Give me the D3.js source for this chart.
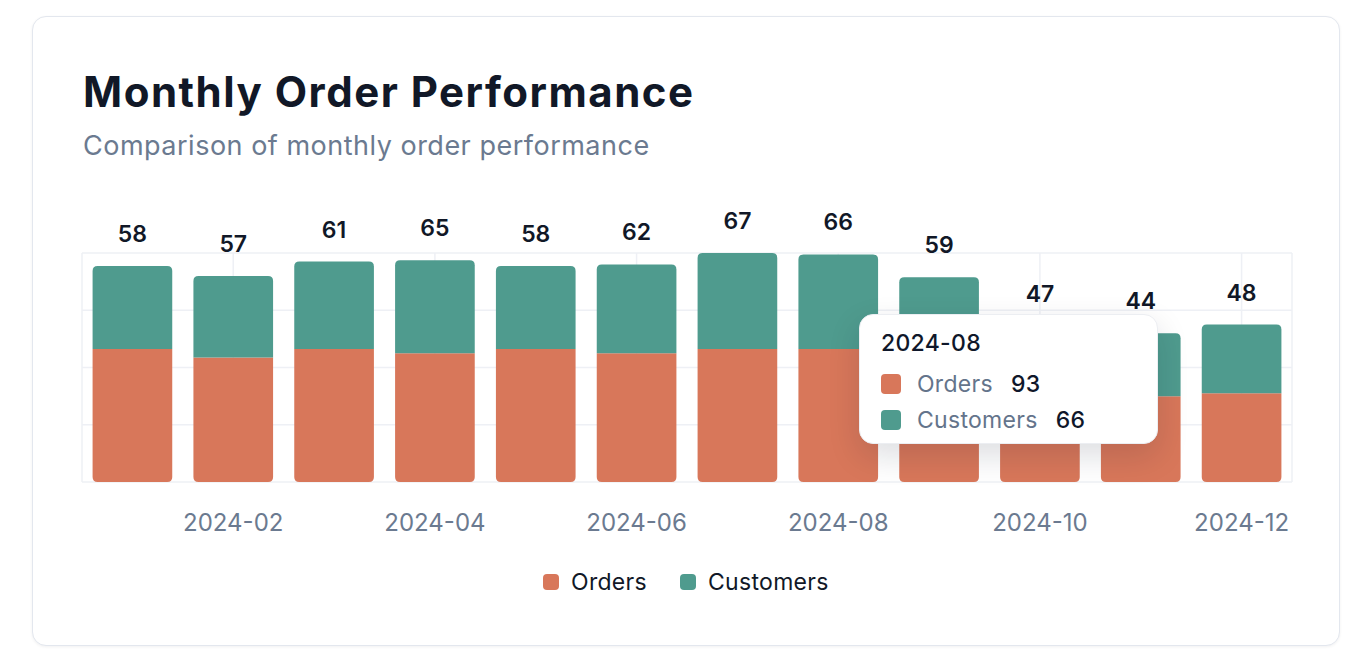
<!DOCTYPE html>
<html>
<head>
<meta charset="utf-8">
<script src="https://cdn.jsdelivr.net/npm/d3@7"></script>
<style>
  html, body { margin: 0; padding: 0; background: #fff; }
  body { width: 1354px; height: 664px; position: relative; overflow: hidden; font-family: Inter, "Noto Sans", sans-serif; }
  .card {
    position: absolute; left: 32px; top: 16px; width: 1306px; height: 628px;
    border: 1.5px solid #e3e7ee; border-radius: 14px; background: #fff;
    box-shadow: 0 1px 3px rgba(15, 23, 42, 0.06);
  }
  svg { position: absolute; left: 0; top: 0; }
  .tooltip {
    position: absolute; box-sizing: border-box; width: 299px; height: 130px;
    background: #fff; border: 1px solid #eceef2; border-radius: 14px;
    box-shadow: 0 12px 32px rgba(15, 23, 42, 0.14);
    padding: 14px 21px;
  }
  .tooltip .t { font-size: 23px; font-weight: 500; color: #0f172a; line-height: 28px; margin-bottom: 9px; letter-spacing: 0.3px; }
  .tooltip .row { display: flex; align-items: center; height: 36px; font-size: 23px; letter-spacing: 0.3px; }
  .tooltip .sw { width: 20px; height: 20px; border-radius: 4px; margin-right: 16px; }
  .tooltip .lbl { color: #64748b; margin-right: 18px; }
  .tooltip .val { color: #0f172a; font-weight: 500; }
</style>
</head>
<body>
<div class="card"></div>
<svg id="chart" width="1354" height="664"></svg>
<script>
const months = ['2024-01', '2024-02', '2024-03', '2024-04', '2024-05', '2024-06',
  '2024-07', '2024-08', '2024-09', '2024-10', '2024-11', '2024-12']
const orders = [93, 87, 93, 90, 93, 90, 93, 93, 84, 62, 60, 62]
const customers = [58, 57, 61, 65, 58, 62, 67, 66, 59, 47, 44, 48]
const seriesNames = ['Orders', 'Customers']
const colors = ['#d8775a', '#4f9b8e']
const yTicks = [0, 40, 80, 120, 160]
const hoverIndex = 7

const svg = d3.select('#chart')
const margin = { left: 82, right: 1292, top: 253, bottom: 482 }

svg.append('text')
  .attr('x', 83).attr('y', 107)
  .attr('font-size', 42).attr('font-weight', 650).attr('fill', '#111827')
  .attr('letter-spacing', '1.5')
  .text('Monthly Order Performance')

svg.append('text')
  .attr('x', 83).attr('y', 155)
  .attr('font-size', 27).attr('fill', '#6b7a90')
  .attr('letter-spacing', '0.5')
  .text('Comparison of monthly order performance')

const x = d3.scaleBand()
  .domain(months)
  .range([margin.left, margin.right])
  .paddingInner(0.21)
  .paddingOuter(0.105)

const y = d3.scaleLinear()
  .domain([0, 160])
  .range([margin.bottom, margin.top])

const data = months.map((m, i) => ({ month: m, Orders: orders[i], Customers: customers[i] }))
const stacked = d3.stack().keys(seriesNames)(data)

// grid
const grid = svg.append('g').attr('stroke', '#eef0f5').attr('stroke-width', 1.5)
grid.selectAll('.h')
  .data(yTicks)
  .enter()
  .append('line')
  .attr('x1', margin.left).attr('x2', margin.right)
  .attr('y1', d => y(d)).attr('y2', d => y(d))
const tickMonths = months.filter((m, i) => i % 2 === 1)
grid.selectAll('.v')
  .data(tickMonths)
  .enter()
  .append('line')
  .attr('x1', d => x(d) + x.bandwidth() / 2).attr('x2', d => x(d) + x.bandwidth() / 2)
  .attr('y1', margin.top).attr('y2', margin.bottom)
grid.selectAll('.e')
  .data([margin.left, margin.right])
  .enter()
  .append('line')
  .attr('x1', d => d).attr('x2', d => d)
  .attr('y1', margin.top).attr('y2', margin.bottom)

// bar segment with rounded corners on one end only
function segPath(x0, w, yTop, yBot, roundTop, r) {
  const p = d3.path()
  if (roundTop) {
    p.moveTo(x0, yBot)
    p.lineTo(x0, yTop + r)
    p.quadraticCurveTo(x0, yTop, x0 + r, yTop)
    p.lineTo(x0 + w - r, yTop)
    p.quadraticCurveTo(x0 + w, yTop, x0 + w, yTop + r)
    p.lineTo(x0 + w, yBot)
  } else {
    p.moveTo(x0, yTop)
    p.lineTo(x0, yBot - r)
    p.quadraticCurveTo(x0, yBot, x0 + r, yBot)
    p.lineTo(x0 + w - r, yBot)
    p.quadraticCurveTo(x0 + w, yBot, x0 + w, yBot - r)
    p.lineTo(x0 + w, yTop)
  }
  p.closePath()
  return p.toString()
}

const layers = svg.selectAll('.layer')
  .data(stacked)
  .enter()
  .append('g')
  .attr('class', 'layer')
  .attr('fill', (d, i) => colors[i])

layers.selectAll('path')
  .data((d, i) => d.map(s => ({ s, top: i === stacked.length - 1 })))
  .enter()
  .append('path')
  .attr('d', d => segPath(x(d.s.data.month), x.bandwidth(), y(d.s[1]), y(d.s[0]), d.top, 5))

// value labels (customers) above each bar
svg.append('g')
  .selectAll('text')
  .data(stacked[1])
  .enter()
  .append('text')
  .attr('x', d => x(d.data.month) + x.bandwidth() / 2)
  .attr('y', d => y(d[1]) - 24)
  .attr('text-anchor', 'middle')
  .attr('font-size', 23).attr('font-weight', 600).attr('fill', '#111827')
  .text(d => d.data.Customers)

// x axis labels
const xAxis = d3.axisBottom(x).tickValues(tickMonths).tickSize(0).tickPadding(0)
const gx = svg.append('g')
  .attr('transform', `translate(0, ${margin.bottom})`)
  .call(xAxis)
gx.select('.domain').remove()
gx.selectAll('text')
  .attr('y', 49).attr('dy', null)
  .attr('font-family', 'Inter, sans-serif')
  .attr('font-size', 24).attr('fill', '#6b7a90')

// legend
const legend = svg.append('g')
const legendX = [543, 680]
seriesNames.forEach((name, i) => {
  legend.append('rect')
    .attr('x', legendX[i]).attr('y', 574)
    .attr('width', 16).attr('height', 16).attr('rx', 4)
    .attr('fill', colors[i])
  legend.append('text')
    .attr('x', legendX[i] + 28).attr('y', 590)
    .attr('font-size', 23).attr('fill', '#111827')
    .attr('letter-spacing', '0.3')
    .text(name)
})

// tooltip for the hovered month
const tip = d3.select('body').append('div')
  .attr('class', 'tooltip')
  .style('left', (x(months[hoverIndex]) + x.bandwidth() * 0.76) + 'px')
  .style('top', (y(orders[hoverIndex]) - 35) + 'px')
tip.append('div').attr('class', 't').text(months[hoverIndex])
const tipVals = [orders[hoverIndex], customers[hoverIndex]]
seriesNames.forEach((name, i) => {
  const row = tip.append('div').attr('class', 'row')
  row.append('div').attr('class', 'sw').style('background', colors[i])
  row.append('span').attr('class', 'lbl').text(name)
  row.append('span').attr('class', 'val').text(tipVals[i])
})
</script>
</body>
</html>
